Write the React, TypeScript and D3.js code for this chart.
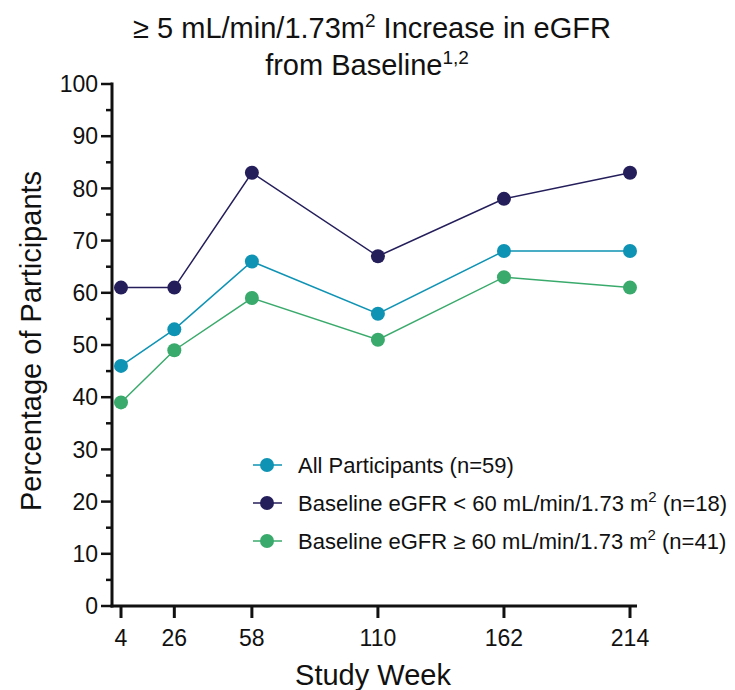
import React from "react";
import * as d3 from "d3";

const weeks = [4, 26, 58, 110, 162, 214];
const allParticipants = [46, 53, 66, 56, 68, 68];
const below60 = [61, 61, 83, 67, 78, 83];
const above60 = [39, 49, 59, 51, 63, 61];
const yTicks = [0, 10, 20, 30, 40, 50, 60, 70, 80, 90, 100];
const yMinorTicks = [5, 15, 25, 35, 45, 55, 65, 75, 85, 95];

const series = [
  { name: "All Participants (n=59)", values: allParticipants, color: "#0f93b4", sup: null },
  { name: "Baseline eGFR < 60 mL/min/1.73 m", values: below60, color: "#241e5b", sup: "(n=18)" },
  { name: "Baseline eGFR ≥ 60 mL/min/1.73 m", values: above60, color: "#3aaa6c", sup: "(n=41)" },
];
const drawOrder = [0, 2, 1];

const FONT = "'Liberation Sans', Arial, sans-serif";

export default function App() {
  const x = d3.scaleLinear().domain([4, 214]).range([121, 630]);
  const y = d3.scaleLinear().domain([0, 100]).range([606, 84]);
  const line = d3
    .line<number>()
    .x((_, i) => x(weeks[i]))
    .y((d) => y(d));
  const axisX0 = 112;

  return (
    <svg
      width={735}
      height={690}
      style={{ position: "absolute", left: 0, top: 0, background: "#fff" }}
      fontFamily={FONT}
    >
      {/* Title */}
      <text x={372} y={38} textAnchor="middle" fontSize={29} fill="#111">
        ≥ 5 mL/min/1.73m<tspan dy={-11} fontSize={19}>2</tspan>
        <tspan dy={11}> Increase in eGFR</tspan>
      </text>
      <text x={367} y={75} textAnchor="middle" fontSize={29} fill="#111">
        from Baseline<tspan dy={-11} fontSize={19}>1,2</tspan>
      </text>

      {/* Y axis */}
      <line x1={axisX0} x2={axisX0} y1={y(100) - 1.5} y2={y(0) + 1.5} stroke="#111" strokeWidth={3} />
      {yTicks.map((t) => (
        <g key={t}>
          <line x1={axisX0 - 11} x2={axisX0} y1={y(t)} y2={y(t)} stroke="#111" strokeWidth={2.5} />
          <text x={98} y={y(t)} dy="0.36em" textAnchor="end" fontSize={23} fill="#111">
            {t}
          </text>
        </g>
      ))}
      {yMinorTicks.map((t) => (
        <line key={t} x1={axisX0 - 6} x2={axisX0} y1={y(t)} y2={y(t)} stroke="#111" strokeWidth={2.5} />
      ))}

      {/* X axis */}
      <line x1={axisX0 - 1.5} x2={637} y1={y(0)} y2={y(0)} stroke="#111" strokeWidth={3} />
      {weeks.map((w) => (
        <g key={w}>
          <line x1={x(w)} x2={x(w)} y1={y(0)} y2={y(0) + 12} stroke="#111" strokeWidth={3} />
          <text x={x(w)} y={646} textAnchor="middle" fontSize={23} fill="#111">
            {w}
          </text>
        </g>
      ))}

      {/* Axis labels */}
      <text
        transform={`translate(41,341) rotate(-90)`}
        textAnchor="middle"
        fontSize={29}
        fill="#111"
      >
        Percentage of Participants
      </text>
      <text x={373} y={685} textAnchor="middle" fontSize={29} fill="#111">
        Study Week
      </text>

      {/* Series */}
      {drawOrder.map((si) => {
        const s = series[si];
        return (
          <g key={si}>
            <path d={line(s.values) || ""} fill="none" stroke={s.color} strokeWidth={1.5} />
            {s.values.map((v, i) => (
              <circle key={i} cx={x(weeks[i])} cy={y(v)} r={7} fill={s.color} />
            ))}
          </g>
        );
      })}

      {/* Legend */}
      {series.map((s, i) => {
        const ly = 465 + i * 38;
        return (
          <g key={i}>
            <line x1={253} x2={282} y1={ly} y2={ly} stroke={s.color} strokeWidth={1.5} />
            <circle cx={267} cy={ly} r={7} fill={s.color} />
            <text x={298} y={ly} dy="0.36em" fontSize={22} fill="#111">
              {s.name}
              {s.sup && (
                <>
                  <tspan dy={-9} fontSize={15}>2</tspan>
                  <tspan dy={9}> {s.sup}</tspan>
                </>
              )}
            </text>
          </g>
        );
      })}
    </svg>
  );
}
